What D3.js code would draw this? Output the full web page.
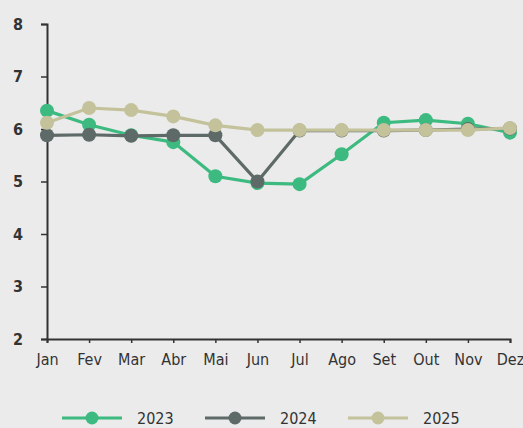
<!DOCTYPE html>
<html><head><meta charset="utf-8">
<script src="https://cdn.jsdelivr.net/npm/d3@7"></script>
<style>
html,body{margin:0;padding:0;background:#ebebeb;}
svg{display:block;}
text{font-family:"DejaVu Sans Condensed","Liberation Sans Narrow",sans-serif;fill:#333;}
</style></head>
<body><svg id="c" width="523" height="428"></svg>
<script>
const months = ["Jan","Fev","Mar","Abr","Mai","Jun","Jul","Ago","Set","Out","Nov","Dez"];
const yTicks = [2,3,4,5,6,7,8];
const seriesNames = ["2023","2024","2025"];
const values2023 = [6.35,6.08,5.88,5.75,5.1,4.97,4.95,5.52,6.12,6.17,6.1,5.93];
const values2024 = [5.88,5.89,5.87,5.88,5.88,5.0,5.97,5.97,5.97,5.98,6.0,6.01];
const values2025 = [6.12,6.4,6.36,6.24,6.07,5.98,5.98,5.98,5.98,5.98,5.98,6.02];
const colors = ["#3cba80","#5e6a67","#c4c29a"];

const svg = d3.select("#c");
const x = d3.scalePoint().domain(months).range([47,510]);
const y = d3.scaleLinear().domain([2,8]).range([339,24]);

const yAxis = svg.append("g").attr("transform","translate(47,0)")
  .call(d3.axisLeft(y).tickValues(yTicks).tickSize(6).tickPadding(18).tickFormat(d3.format("d")));
yAxis.select(".domain").attr("stroke","#333").attr("stroke-width",2);
yAxis.selectAll(".tick line").attr("stroke","#333").attr("stroke-width",1.5);
yAxis.selectAll("text").style("font-weight","bold").style("font-size","16px").attr("fill","#333");

const xAxis = svg.append("g").attr("transform","translate(0,339)")
  .call(d3.axisBottom(x).tickSize(4).tickSizeOuter(4).tickPadding(11));
xAxis.select(".domain").attr("stroke","#333").attr("stroke-width",2);
xAxis.selectAll(".tick line").attr("stroke","#333").attr("stroke-width",1.5);
xAxis.selectAll("text").style("font-size","16px").attr("fill","#333");

const data = [values2023, values2024, values2025];
const line = d3.line().x((d,i)=>x(months[i])).y(d=>y(d));
data.forEach((vals,k)=>{
  const g = svg.append("g");
  g.append("path").datum(vals).attr("d",line).attr("fill","none")
    .attr("stroke",colors[k]).attr("stroke-width",3.2);
  g.selectAll("circle").data(vals).join("circle")
    .attr("cx",(d,i)=>x(months[i])).attr("cy",d=>y(d)).attr("r",7)
    .attr("fill",colors[k]);
});

// legend
const legX = [62,205,348];
seriesNames.forEach((name,k)=>{
  const g = svg.append("g").attr("transform",`translate(${legX[k]},418)`);
  g.append("line").attr("x1",0).attr("x2",60).attr("y1",0).attr("y2",0)
    .attr("stroke",colors[k]).attr("stroke-width",3.2);
  g.append("circle").attr("cx",30).attr("cy",0).attr("r",6.5).attr("fill",colors[k]);
  g.append("text").attr("x",75).attr("y",6).style("font-size","16px").text(name);
});
</script></body></html>
